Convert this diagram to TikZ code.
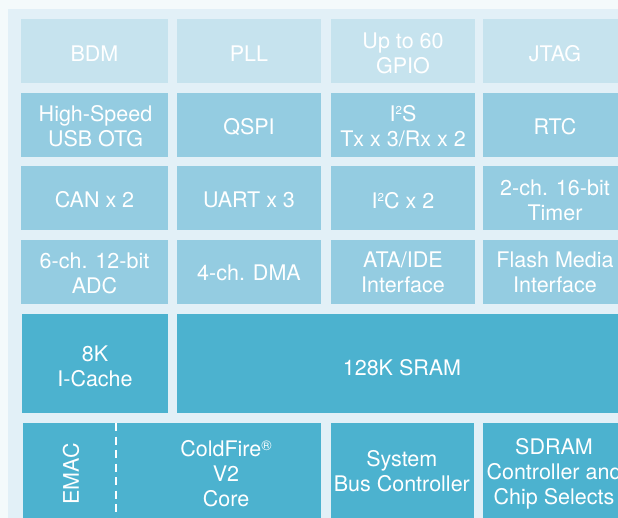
\documentclass[tikz,border=0pt]{standalone}
\usepackage{fontspec}
\setmainfont{TeX Gyre Heros}
\definecolor{outerbg}{HTML}{F4FAFB}
\definecolor{panel}{HTML}{E2F0F7}
\definecolor{light}{HTML}{C6E3EE}
\definecolor{mid}{HTML}{94CCE1}
\definecolor{dark}{HTML}{4CB2CF}
\newcommand\supnum[1]{\raisebox{7.2pt}{\fontsize{11.5}{11.5}\selectfont #1}}
\newcommand\supreg{\raisebox{5.8pt}{\fontsize{14}{14}\selectfont\textregistered}}
\begin{document}
\begin{tikzpicture}[x=1pt,y=-1pt,
  lbl/.style={inner sep=0pt, outer sep=0pt, text=white, align=center,
    font=\fontsize{21.5}{25}\selectfont}]
\useasboundingbox (0,0) rectangle (618,518);
\clip (0,0) rectangle (618,518);
\fill[outerbg] (0,0) rectangle (618,518);
\fill[panel] (8,9) rectangle (630,530);
% row 1
\fill[light] (21,19.5) rectangle (168,83);
\fill[light] (177,19.5) rectangle (321,83);
\fill[light] (331,19.5) rectangle (475,83);
\fill[light] (483,19.5) rectangle (627,83);
\node[lbl] (bdm) at (94.5,53.8) {BDM};
\node[lbl] (pll) at (249,53.8) {PLL};
\node[lbl] (gpio) at (403,53.5) {Up to 60\\GPIO};
\node[lbl] (jtag) at (555,53.8) {JTAG};
% row 2
\fill[mid] (21,93) rectangle (168,157);
\fill[mid] (177,93) rectangle (321,157);
\fill[mid] (331,93) rectangle (475,157);
\fill[mid] (483,93) rectangle (627,157);
\node[lbl] (usb) at (95.5,126.2) {High-Speed\\USB OTG};
\node[lbl] (qspi) at (249,127) {QSPI};
\node[lbl] (i2s) at (403,126) {I\supnum{2}S\\Tx x 3/Rx x 2};
\node[lbl] (rtc) at (555,126.5) {RTC};
% row 3
\fill[mid] (21,166) rectangle (168,230);
\fill[mid] (177,166) rectangle (321,230);
\fill[mid] (331,166) rectangle (475,230);
\fill[mid] (483,166) rectangle (627,230);
\node[lbl] (can) at (94.5,200) {CAN x 2};
\node[lbl] (uart) at (249,200) {UART x 3};
\node[lbl] (i2c) at (403,201) {I\supnum{2}C x 2};
\node[lbl] (timer) at (555,200.3) {2-ch. 16-bit\\Timer};
% row 4
\fill[mid] (21,240) rectangle (168,304);
\fill[mid] (177,240) rectangle (321,304);
\fill[mid] (331,240) rectangle (475,304);
\fill[mid] (483,240) rectangle (627,304);
\node[lbl] (adc) at (94.5,273) {6-ch. 12-bit\\ADC};
\node[lbl] (dma) at (249,273.3) {4-ch. DMA};
\node[lbl] (ata) at (403,272.7) {ATA/IDE\\Interface};
\node[lbl] (flash) at (555,272.7) {Flash Media\\Interface};
% row 5
\fill[dark] (22,314) rectangle (168,413);
\fill[dark] (177,314) rectangle (627,413);
\node[lbl] (icache) at (95,366.2) {8K\\I-Cache};
\node[lbl] (sram) at (402,367.3) {128K SRAM};
% row 6
\fill[dark] (23,423) rectangle (321,530);
\fill[dark] (331,423) rectangle (474,530);
\fill[dark] (483,423) rectangle (627,530);
\coordinate (dashtop) at (116,423);
\coordinate (dashbot) at (116,518);
\draw[white, line width=1.4pt, dash pattern=on 8pt off 5.5pt] (dashtop) -- (dashbot);
\node[lbl, rotate=90] (emac) at (71,474) {EMAC};
\node[lbl] (core) at (226,473.8) {ColdFire\supreg\\V2\\Core};
\node[lbl] (sysbus) at (401.8,471.5) {System\\Bus Controller};
\node[lbl] (sdram) at (554,474) {SDRAM\\Controller and\\Chip Selects};
\end{tikzpicture}
\end{document}
